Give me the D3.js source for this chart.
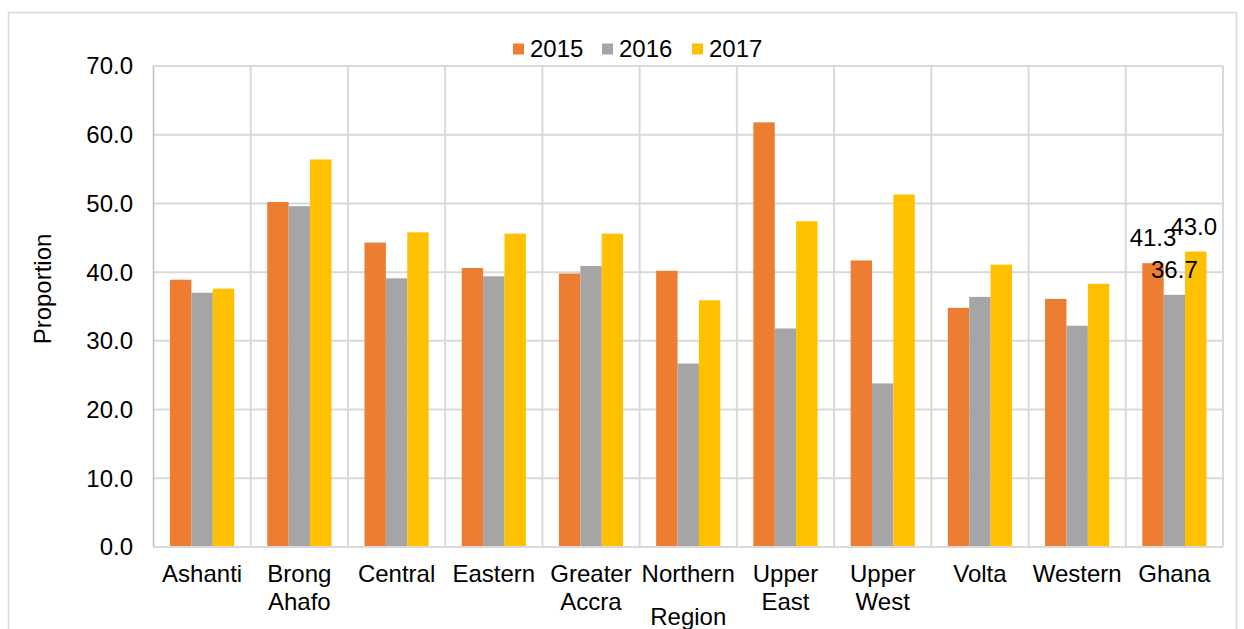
<!DOCTYPE html>
<html>
<head>
<meta charset="utf-8">
<script src="https://cdn.jsdelivr.net/npm/d3@7"></script>
<style>
  body { margin: 0; background: #fff; }
  svg text { font-family: "Liberation Sans", Arial, sans-serif; fill: #000; }
</style>
</head>
<body>
<div id="chart"></div>
<script>
// regions, one entry per group of bars (line breaks as in the chart)
var regions = ["Ashanti", "Brong Ahafo", "Central", "Eastern", "Greater Accra", "Northern",
               "Upper East", "Upper West", "Volta", "Western", "Ghana"]
var regionLines = [["Ashanti"], ["Brong", "Ahafo"], ["Central"], ["Eastern"], ["Greater", "Accra"], ["Northern"],
                   ["Upper", "East"], ["Upper", "West"], ["Volta"], ["Western"], ["Ghana"]]
var years = ["2015", "2016", "2017"]
var colors = ["#ED7D31", "#A5A5A5", "#FFC000"]

// proportion per region
var values2015 = [38.9, 50.2, 44.3, 40.6, 39.8, 40.2, 61.8, 41.7, 34.8, 36.1, 41.3]
var values2016 = [37.0, 49.6, 39.1, 39.4, 40.9, 26.7, 31.8, 23.8, 36.4, 32.2, 36.7]
var values2017 = [37.6, 56.4, 45.8, 45.6, 45.6, 35.9, 47.4, 51.3, 41.1, 38.3, 43.0]
var yTicks = [0, 10, 20, 30, 40, 50, 60, 70]

var series = [values2015, values2016, values2017]

var width = 1244, height = 629
var plot = {left: 153.5, right: 1223, top: 66, bottom: 547}
var fontSize = "24px"

var svg = d3.select("#chart").append("svg")
  .attr("width", width)
  .attr("height", height)

// outer frame of the chart
svg.append("rect")
  .attr("x", 8.5).attr("y", 12.5)
  .attr("width", 1228).attr("height", 640)
  .attr("fill", "none")
  .attr("stroke", "#d9d9d9")
  .attr("stroke-width", 1.5)

var x0 = d3.scaleBand().domain(regions).range([plot.left, plot.right]).padding(0)
var bw = x0.bandwidth()
var barW = bw * 0.22
var x1 = d3.scaleBand().domain(years).range([(bw - 3 * barW) / 2, (bw + 3 * barW) / 2])
var y = d3.scaleLinear().domain([0, 70]).range([plot.bottom, plot.top])

// horizontal gridlines
svg.append("g").selectAll("line").data(yTicks).enter().append("line")
  .attr("x1", plot.left).attr("x2", plot.right)
  .attr("y1", d => y(d)).attr("y2", d => y(d))
  .attr("stroke", "#d9d9d9").attr("stroke-width", 2)

// vertical gridlines at category borders
var borders = regions.map(r => x0(r)).concat([plot.right])
svg.append("g").selectAll("line").data(borders.slice(1)).enter().append("line")
  .attr("x1", d => d).attr("x2", d => d)
  .attr("y1", plot.top).attr("y2", plot.bottom)
  .attr("stroke", "#d9d9d9").attr("stroke-width", 2)

// left axis line
svg.append("line")
  .attr("x1", plot.left).attr("x2", plot.left)
  .attr("y1", plot.top).attr("y2", plot.bottom)
  .attr("stroke", "#bfbfbf").attr("stroke-width", 1.5)

// bars
for (s = 0; s < series.length; s++) {
  svg.append("g").selectAll("rect").data(series[s]).enter().append("rect")
    .attr("x", (d, i) => x0(regions[i]) + x1(years[s]))
    .attr("y", d => y(d))
    .attr("width", x1.bandwidth())
    .attr("height", d => y(0) - y(d))
    .attr("fill", colors[s])
}

// bottom axis line
svg.append("line")
  .attr("x1", plot.left).attr("x2", plot.right)
  .attr("y1", plot.bottom).attr("y2", plot.bottom)
  .attr("stroke", "#d9d9d9").attr("stroke-width", 2)

// y tick labels
svg.append("g").selectAll("text").data(yTicks).enter().append("text")
  .attr("x", 133)
  .attr("y", d => y(d))
  .attr("dy", "0.35em")
  .attr("text-anchor", "end")
  .style("font-size", fontSize)
  .text(d => d.toFixed(1))

// category labels
var catG = svg.append("g")
regions.forEach(function(r, i) {
  var t = catG.append("text")
    .attr("x", x0(r) + bw / 2)
    .attr("y", 582)
    .attr("text-anchor", "middle")
    .style("font-size", fontSize)
  regionLines[i].forEach(function(line, j) {
    t.append("tspan").attr("x", x0(r) + bw / 2).attr("dy", j == 0 ? 0 : 27.5).text(line)
  })
})

// data labels, only on the Ghana group
var last = regions.length - 1
var labelNudge = [0, 0, -2]
for (s = 0; s < series.length; s++) {
  svg.append("text")
    .attr("x", x0(regions[last]) + x1(years[s]) + x1.bandwidth() / 2 + labelNudge[s])
    .attr("y", y(series[s][last]) - 17)
    .attr("text-anchor", "middle")
    .style("font-size", fontSize)
    .text(series[s][last].toFixed(1))
}

// axis titles
svg.append("text")
  .attr("transform", "translate(51,289) rotate(-90)")
  .attr("text-anchor", "middle")
  .style("font-size", fontSize)
  .text("Proportion")

svg.append("text")
  .attr("x", (plot.left + plot.right) / 2).attr("y", 625)
  .attr("text-anchor", "middle")
  .style("font-size", fontSize)
  .text("Region")

// legend
var legendX = [513, 602, 692]
years.forEach(function(yr, i) {
  svg.append("rect")
    .attr("x", legendX[i]).attr("y", 43.5)
    .attr("width", 11).attr("height", 11)
    .attr("fill", colors[i])
  svg.append("text")
    .attr("x", legendX[i] + 17).attr("y", 56.5)
    .style("font-size", fontSize)
    .text(yr)
})
</script>
</body>
</html>
